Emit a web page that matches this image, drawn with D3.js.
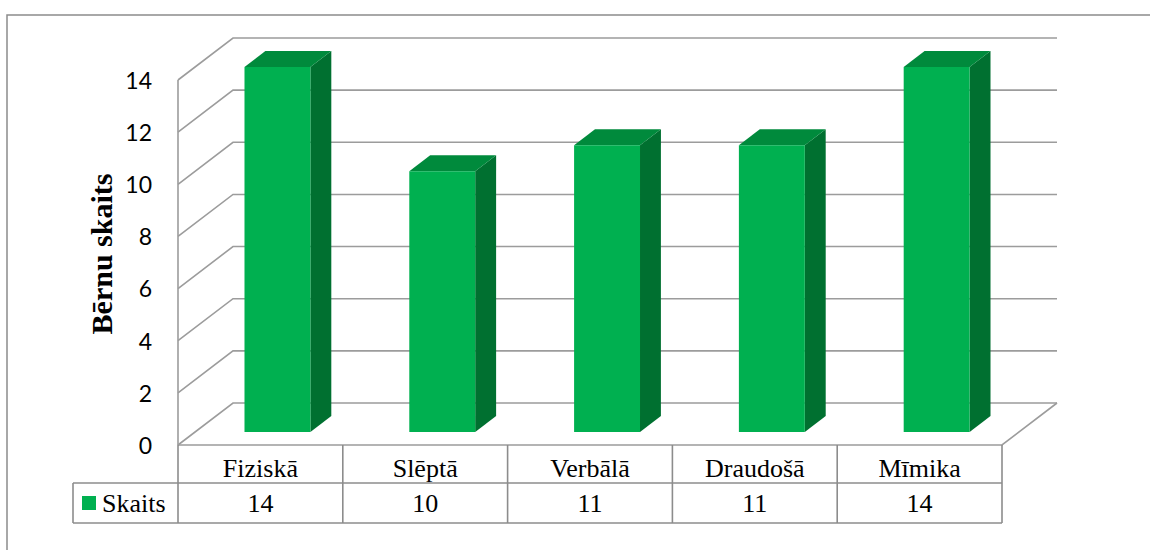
<!DOCTYPE html>
<html>
<head>
<meta charset="utf-8">
<script src="https://cdn.jsdelivr.net/npm/d3@7"></script>
<style>
  body { margin: 0; background: #fff; }
</style>
</head>
<body>
<script>
// data
var categories = ["Fiziskā", "Slēptā", "Verbālā", "Draudošā", "Mīmika"];
var values = [14, 10, 11, 11, 14];
var seriesName = "Skaits";
var yTicks = [0, 2, 4, 6, 8, 10, 12, 14];

var W = 1150, H = 550;
// 3d box: front plane + depth offset
var front = {left: 178, right: 1002, top: 80, bottom: 445};
var depthX = 55, depthY = -42;
var barFront = 0.31, barBack = 0.69, barWidth = 0.4;

var serif = "Liberation Serif";

var svg = d3.select("body").append("svg")
    .attr("width", W)
    .attr("height", H);

// outer chart border (cut by the frame on right/bottom)
svg.append("rect")
    .attr("x", 7).attr("y", 15)
    .attr("width", 1200).attr("height", 600)
    .attr("fill", "none")
    .attr("stroke", "#8c8c8c")
    .attr("stroke-width", 1.5);

var x = d3.scaleBand()
    .domain(categories)
    .range([front.left, front.right]);

var y = d3.scaleLinear()
    .domain([0, 14])
    .range([front.bottom, front.top]);

// project a point: front x, value, depth fraction
function P(px, v, d) {
  return [px + d * depthX, y(v) + d * depthY];
}
function poly(pts) {
  return pts.map(function(p) { return p[0] + "," + p[1]; }).join(" ");
}

var grid = svg.append("g")
    .attr("fill", "none")
    .attr("stroke", "#9c9c9c")
    .attr("stroke-width", 1.6);

// back wall gridlines and side wall diagonals
yTicks.forEach(function(t) {
  var a = P(front.left, t, 0), b = P(front.left, t, 1), c = P(front.right, t, 1);
  grid.append("polyline").attr("points", poly([a, b, c]));
});
// front vertical axis
grid.append("line")
    .attr("x1", front.left).attr("x2", front.left)
    .attr("y1", y(14)).attr("y2", y(0));
// floor front edge + right side
grid.append("polyline")
    .attr("points", poly([P(front.left, 0, 0), P(front.right, 0, 0), P(front.right, 0, 1)]));

// y tick labels
svg.append("g")
    .selectAll("text")
    .data(yTicks)
    .enter()
    .append("text")
    .attr("x", 152)
    .attr("y", function(d) { return y(d) + 3; })
    .attr("text-anchor", "end")
    .attr("dominant-baseline", "middle")
    .attr("font-family", "Lato")
    .attr("font-size", 23)
    .attr("fill", "#000")
    .text(function(d) { return d; });

// y title
svg.append("text")
    .attr("transform", "translate(112,254) rotate(-90)")
    .attr("text-anchor", "middle")
    .attr("font-family", serif)
    .attr("font-weight", "bold")
    .attr("font-size", 30)
    .text("Bērnu skaits");

// bars
var bars = svg.append("g");
categories.forEach(function(c, i) {
  var bw = x.bandwidth() * barWidth;
  var x0 = x(c) + (x.bandwidth() - bw) / 2, x1 = x0 + bw;
  var v = values[i];
  // side
  bars.append("polygon")
      .attr("points", poly([P(x1, 0, barFront), P(x1, 0, barBack), P(x1, v, barBack), P(x1, v, barFront)]))
      .attr("fill", "#007030");
  // top
  bars.append("polygon")
      .attr("points", poly([P(x0, v, barFront), P(x1, v, barFront), P(x1, v, barBack), P(x0, v, barBack)]))
      .attr("fill", "#008a3c");
  // front
  bars.append("polygon")
      .attr("points", poly([P(x0, 0, barFront), P(x1, 0, barFront), P(x1, v, barFront), P(x0, v, barFront)]))
      .attr("fill", "#00b050");
});

// data table
var row1 = 445, row2 = 483, row3 = 523, legendLeft = 73;
var tbl = svg.append("g")
    .attr("fill", "none")
    .attr("stroke", "#8c8c8c")
    .attr("stroke-width", 1.6);
tbl.append("line").attr("x1", legendLeft).attr("x2", front.right).attr("y1", row2).attr("y2", row2);
tbl.append("line").attr("x1", legendLeft).attr("x2", front.right).attr("y1", row3).attr("y2", row3);
tbl.append("line").attr("x1", legendLeft).attr("x2", legendLeft).attr("y1", row2).attr("y2", row3);
categories.concat([null]).forEach(function(c, i) {
  var xx = c === null ? front.right : x(c);
  tbl.append("line").attr("x1", xx).attr("x2", xx).attr("y1", row1).attr("y2", row3);
});

svg.append("g").selectAll("text")
    .data(categories)
    .enter()
    .append("text")
    .attr("x", function(d) { return x(d) + x.bandwidth() / 2; })
    .attr("y", 477)
    .attr("text-anchor", "middle")
    .attr("font-family", serif)
    .attr("font-size", 26)
    .text(function(d) { return d; });

svg.append("g").selectAll("text")
    .data(values)
    .enter()
    .append("text")
    .attr("x", function(d, i) { return x(categories[i]) + x.bandwidth() / 2; })
    .attr("y", 512)
    .attr("text-anchor", "middle")
    .attr("font-family", serif)
    .attr("font-size", 26)
    .text(function(d) { return d; });

// legend key in table
svg.append("rect")
    .attr("x", 82).attr("y", 496)
    .attr("width", 14).attr("height", 14)
    .attr("fill", "#00b050");
svg.append("text")
    .attr("x", 102).attr("y", 512)
    .attr("font-family", serif)
    .attr("font-size", 26)
    .text(seriesName);
</script>
</body>
</html>
